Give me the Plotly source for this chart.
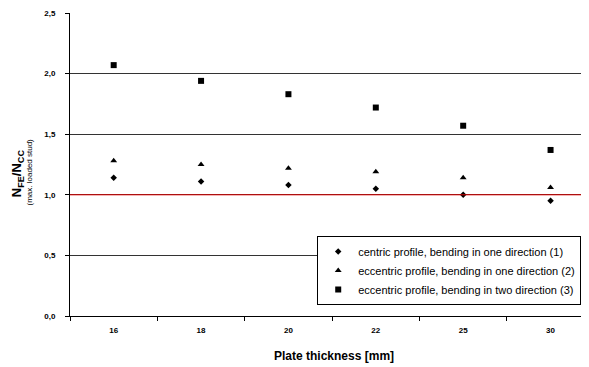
import plotly.graph_objects as go

categories = ["16", "18", "20", "22", "25", "30"]
centric_one = [1.14, 1.11, 1.08, 1.05, 1.00, 0.95]
eccentric_one = [1.28, 1.25, 1.22, 1.19, 1.14, 1.06]
eccentric_two = [2.07, 1.94, 1.83, 1.72, 1.57, 1.37]
names = [
    "centric profile, bending in one direction (1)",
    "eccentric profile, bending in one direction (2)",
    "eccentric profile, bending in two direction (3)",
]
y_ticks = [0.0, 0.5, 1.0, 1.5, 2.0, 2.5]

FONT = "Arial, Liberation Sans, sans-serif"

fig = go.Figure()
for vals, name, sym, size in [
    (centric_one, names[0], "diamond", 5),
    (eccentric_one, names[1], "triangle-up", 6),
    (eccentric_two, names[2], "square", 6),
]:
    fig.add_trace(go.Scatter(
        x=categories, y=vals, mode="markers", name=name,
        marker=dict(symbol=sym, size=size, color="black"),
    ))

# red reference line at 1.0
fig.add_shape(type="line", xref="paper", yref="y", x0=0, x1=1, y0=1.0, y1=1.0,
              line=dict(color="#e00000", width=1), layer="above")

fig.update_layout(
    width=581, height=359,
    margin=dict(l=62, r=0, t=5, b=51),
    paper_bgcolor="white", plot_bgcolor="white",
    separators=",.",
    font=dict(family=FONT, size=8, color="black"),
    showlegend=True,
    legend=dict(
        x=0.985, y=0.264, xanchor="right", yanchor="top",
        bordercolor="black", borderwidth=1, bgcolor="white",
        font=dict(size=11, family=FONT), itemwidth=30,
        tracegroupgap=0,
    ),
    xaxis=dict(
        type="category", range=[-0.5, 5.44],
        showline=True, linecolor="black", linewidth=1,
        ticks="outside", ticklen=4, tickcolor="black", tickson="boundaries",
        ticklabelstandoff=6,
        showgrid=False, zeroline=False,
        tickfont=dict(size=8, family=FONT, weight="bold"),
    ),
    yaxis=dict(
        range=[0, 2.5], tickvals=y_ticks, tickformat=".1f",
        showline=True, linecolor="black", linewidth=1,
        ticks="outside", ticklen=4, tickcolor="black",
        ticklabelstandoff=8,
        showgrid=True, gridcolor="#333333", gridwidth=1,
        zeroline=False,
        tickfont=dict(size=8, family=FONT, weight="bold"),
    ),
)

fig.add_annotation(
    xref="paper", yref="paper", x=0.508, y=-0.131, xanchor="center", yanchor="middle",
    text="<b>Plate thickness [mm]</b>", showarrow=False,
    font=dict(size=12, family=FONT),
)
fig.add_annotation(
    xref="paper", yref="paper", x=-0.101, y=0.47, xanchor="center", yanchor="middle",
    text="<b>N<sub>FE</sub>/N<sub>CC</sub></b>", textangle=-90, showarrow=False,
    font=dict(size=13, family=FONT),
)
fig.add_annotation(
    xref="paper", yref="paper", x=-0.079, y=0.477, xanchor="center", yanchor="middle",
    text="(max. loaded stud)", textangle=-90, showarrow=False,
    font=dict(size=8, family=FONT),
)

fig.write_html("out.html")
